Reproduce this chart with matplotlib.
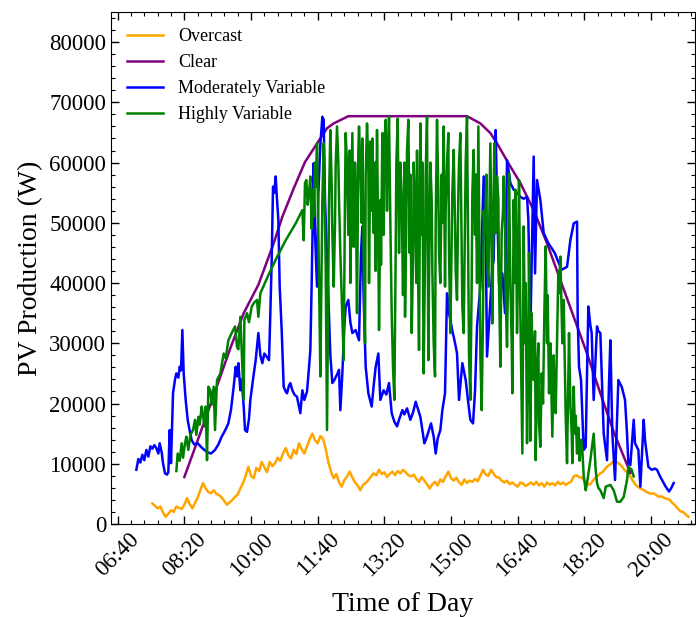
import matplotlib
matplotlib.use("Agg")
import matplotlib.pyplot as plt
from matplotlib.ticker import MultipleLocator, FuncFormatter

# time of day in minutes after midnight, PV production in W
clear = [(500, 7800), (522, 14500), (540, 20100), (569, 29200), (589, 35000),
         (611, 39700), (634, 46600), (647, 51000), (664, 55700), (681, 60100),
         (701, 63500), (714, 65700), (724, 66500), (746, 67700), (924, 67700),
         (944, 66500), (959, 64900), (969, 63200), (986, 59900), (1004, 56600),
         (1024, 52100), (1044, 46600), (1064, 40500), (1084, 34400), (1104, 28300),
         (1124, 21700), (1144, 15300), (1169, 8500)]

overcast_start = 452   # 07:32, sampled every 4 min
overcast_step = 4
overcast = [3400, 3000, 2600, 2900, 1900, 1200, 1700, 2300, 2000, 2900,
            2700, 2500, 3200, 4300, 3300, 2600, 3500, 4400, 5600, 6800,
            5900, 5300, 5100, 5600, 5000, 4800, 4400, 3800, 3200, 3600,
            4000, 4500, 4900, 5900, 6800, 8000, 9500, 8000, 7600, 9300,
            8800, 10300, 9400, 8600, 10300, 9600, 10100, 11000, 10500, 11700,
            12600, 11400, 10900, 12300, 11600, 13400, 12400, 11700, 12900, 14100,
            15000, 13900, 13400, 14600, 14200, 12500, 10300, 8700, 7600, 8300,
            6900, 6200, 7300, 7900, 8700, 7700, 6900, 6400, 5600, 6500,
            6800, 7300, 7900, 8400, 8100, 9000, 8300, 8600, 7800, 8300,
            8700, 8100, 8800, 8400, 9000, 8600, 8100, 7900, 8200, 7500,
            7000, 7800, 7200, 6600, 5900, 6600, 7000, 6400, 7400, 7000,
            7900, 8700, 7600, 7200, 7700, 6900, 6500, 7400, 6800, 7200,
            7000, 7500, 7100, 8000, 9000, 8200, 8000, 9000, 8300, 7800,
            7700, 7200, 6900, 7200, 6600, 6900, 6500, 6200, 6900, 6700,
            6300, 6600, 6900, 6500, 7000, 6400, 6800, 6200, 6900, 6500,
            6800, 6400, 7000, 6600, 6900, 6500, 6800, 7000, 7900, 8100,
            7800, 7700, 7200, 6800, 6500, 7100, 7600, 8000, 8400, 8700,
            9300, 9700, 10000, 10400, 10300, 10000, 9600, 9000, 8600, 8100,
            7300, 6600, 6200, 5900, 5700, 5400, 5200, 5000, 5100, 4800,
            4500, 4600, 4300, 4200, 4000, 3500, 3100, 2600, 2100, 2000,
            1600, 1200]

moderate = [(428, 9000), (431, 10800), (434, 10200), (437, 11500), (440, 10600),
            (443, 12300), (446, 11200), (449, 12900), (452, 12500), (455, 13100),
            (458, 12600), (461, 11700), (463, 13400), (466, 11900), (468, 10100),
            (471, 8400), (474, 8200), (476, 8600), (478, 15600), (480, 10100),
            (483, 21700), (486, 24000), (488, 25000), (491, 24300), (493, 26100),
            (495, 25500), (497, 32200), (499, 25000), (502, 20600), (505, 17300),
            (508, 15500), (511, 13900), (515, 13200), (520, 13400), (525, 12800),
            (530, 12300), (535, 11900), (540, 11700), (546, 12300), (551, 13200),
            (556, 14500), (561, 15500), (566, 16700), (570, 19000), (574, 22800),
            (577, 26100), (579, 24500), (581, 26700), (584, 22200), (586, 24000),
            (589, 19500), (591, 15600), (594, 15300), (597, 17500), (599, 20600),
            (603, 24000), (607, 27200), (611, 31700), (614, 28000), (617, 26700),
            (620, 28300), (624, 27700), (627, 27200), (629, 35000), (631, 43800),
            (633, 56000), (635, 55000), (637, 57700), (639, 53800), (641, 50500),
            (643, 39400), (646, 32200), (649, 22800), (652, 22000), (654, 21700),
            (657, 23000), (659, 23400), (662, 22200), (665, 21500), (669, 21100),
            (672, 19500), (674, 18400), (677, 22200), (680, 20600), (684, 22000),
            (687, 26000), (689, 28900), (691, 40000), (694, 59900), (696, 48300),
            (699, 39400), (701, 54900), (704, 63000), (707, 67600), (709, 67100),
            (711, 53800), (714, 44000), (716, 37200), (719, 28000), (722, 23400),
            (725, 23900), (729, 24800), (732, 25600), (734, 18900), (737, 25000),
            (740, 33000), (742, 36100), (746, 37200), (749, 33500), (752, 31700),
            (757, 32200), (762, 30500), (765, 45000), (767, 49400), (769, 37200),
            (772, 26100), (776, 21700), (781, 19500), (784, 23000), (787, 26100),
            (791, 28300), (794, 20600), (799, 22200), (803, 21500), (807, 23400),
            (811, 18400), (815, 17000), (819, 16200), (822, 17300), (827, 18900),
            (830, 18200), (834, 19200), (839, 17300), (843, 18500), (847, 20300),
            (851, 18900), (854, 17800), (857, 15600), (860, 13400), (863, 14200),
            (867, 15600), (870, 16700), (874, 14500), (877, 11700), (880, 14200),
            (884, 15600), (887, 18900), (891, 21700), (894, 38300), (897, 35000),
            (899, 33900), (902, 32000), (904, 31100), (907, 29500), (909, 28300),
            (912, 20600), (917, 26700), (920, 25000), (922, 23900), (926, 20000),
            (929, 17300), (933, 16700), (936, 22000), (939, 32800), (944, 39400),
            (949, 57700), (952, 48300), (954, 27800), (958, 35000), (962, 42700),
            (964, 43800), (967, 65400), (969, 53800), (972, 40000), (977, 41600),
            (981, 35000), (984, 60400), (989, 56600), (994, 55500), (999, 55000),
            (1004, 54300), (1009, 54000), (1014, 54300), (1016, 50500), (1019, 31700),
            (1021, 43300), (1024, 61000), (1026, 41600), (1029, 57100), (1034, 53800),
            (1039, 48300), (1046, 46600), (1051, 45800), (1056, 44900), (1061, 43500),
            (1066, 42200), (1074, 42700), (1079, 47100), (1084, 49900), (1089, 50200),
            (1090, 34400), (1092, 26100), (1095, 23900), (1099, 12300), (1102, 12800),
            (1104, 25000), (1106, 36100), (1109, 33000), (1111, 31700), (1114, 20600),
            (1119, 32800), (1121, 32000), (1124, 31700), (1127, 21700), (1129, 15000),
            (1134, 10600), (1137, 23400), (1139, 30500), (1142, 15000), (1146, 7300),
            (1151, 23900), (1154, 23200), (1156, 22800), (1161, 20600), (1164, 15000),
            (1166, 10100), (1169, 9800), (1174, 17300), (1176, 13400), (1181, 12300),
            (1184, 6200), (1189, 17300), (1191, 13900), (1196, 9500), (1201, 9000),
            (1206, 9200), (1209, 9000), (1214, 7800), (1219, 6800), (1222, 6200),
            (1227, 5400), (1230, 5900), (1234, 6800)]

highly = [(488, 8800), (490, 11700), (493, 10500), (496, 13400), (498, 11000),
          (501, 13400), (503, 14500), (506, 12300), (509, 14800), (513, 15600),
          (516, 17300), (518, 14800), (521, 17800), (523, 16500), (526, 19500),
          (528, 18000), (530, 16200), (532, 19500), (534, 10600), (536, 22800),
          (539, 22200), (541, 19800), (544, 22800), (546, 15600), (549, 23900),
          (554, 25000), (557, 27000), (559, 28300), (562, 27500), (566, 30500),
          (571, 31700), (576, 32800), (579, 29400), (581, 29000), (584, 34400),
          (587, 26100), (589, 20600), (590, 33900), (594, 35000), (597, 33500),
          (601, 36100), (605, 36800), (609, 37200), (611, 34400), (614, 38300),
          (620, 39800), (626, 41300), (632, 42700), (638, 44100), (645, 45600),
          (652, 47100), (660, 48600), (667, 49900), (672, 51000), (677, 52100),
          (679, 47100), (681, 56600), (683, 57100), (685, 53000), (687, 54900),
          (689, 57700), (691, 49000), (692, 55500), (694, 51000), (696, 60000),
          (697, 56000), (699, 63200), (701, 48300), (703, 33000), (704, 24500),
          (706, 45000), (707, 53800), (709, 63200), (710, 58000), (712, 42700),
          (714, 15600), (716, 40000), (717, 53800), (719, 65400), (721, 56000),
          (722, 48300), (724, 39400), (726, 50000), (727, 59400), (729, 66000),
          (731, 60000), (732, 53800), (734, 45000), (736, 38000), (737, 34400),
          (739, 27200), (741, 55000), (742, 64900), (744, 59400), (746, 48000),
          (748, 62000), (749, 40000), (751, 57000), (752, 64900), (754, 46000),
          (756, 60000), (757, 56600), (759, 35000), (761, 62000), (762, 66000),
          (764, 59400), (766, 50000), (767, 64000), (769, 42700), (771, 30000),
          (772, 58000), (774, 66500), (776, 60000), (777, 40000), (779, 63500),
          (781, 52000), (782, 64000), (784, 48300), (786, 60000), (787, 42000),
          (789, 65400), (791, 45000), (792, 32200), (794, 53800), (795, 43000),
          (797, 64900), (799, 48000), (800, 63000), (802, 67100), (804, 52000),
          (805, 60000), (807, 67600), (809, 50000), (811, 35000), (813, 26000),
          (815, 20600), (817, 45000), (818, 60000), (820, 67300), (822, 45000),
          (824, 60000), (826, 53800), (828, 38000), (830, 60000), (831, 34400),
          (833, 50000), (834, 62000), (836, 67100), (838, 45000), (839, 58000),
          (841, 31700), (843, 44000), (844, 60000), (846, 53200), (848, 40000),
          (849, 62000), (851, 38000), (852, 28900), (854, 66500), (856, 48000),
          (857, 60000), (859, 25000), (861, 45000), (862, 58000), (864, 67600),
          (866, 27200), (867, 40000), (869, 60000), (871, 53800), (872, 42000),
          (874, 30000), (876, 24500), (877, 50000), (879, 67100), (881, 55000),
          (882, 45000), (884, 40000), (886, 58000), (887, 50000), (889, 66000),
          (891, 39400), (892, 52000), (894, 60000), (896, 64900), (897, 45000),
          (899, 31700), (901, 48000), (902, 55000), (904, 62100), (906, 50000),
          (907, 42000), (909, 37200), (911, 55000), (912, 60000), (914, 64900),
          (916, 45000), (917, 36000), (919, 31700), (921, 50000), (922, 60000),
          (924, 67600), (926, 40000), (927, 28000), (929, 20600), (931, 40000),
          (932, 55000), (934, 62100), (936, 48000), (937, 58000), (939, 40000),
          (941, 66000), (943, 40000), (944, 28000), (946, 18900), (948, 35000),
          (949, 52000), (951, 48300), (953, 58000), (954, 45000), (956, 39400),
          (958, 55000), (959, 63200), (961, 45000), (962, 33300), (964, 55000),
          (965, 63200), (967, 48300), (969, 57700), (971, 53800), (972, 40000),
          (974, 26100), (976, 48300), (978, 52000), (979, 57700), (981, 50500),
          (982, 38000), (984, 29400), (986, 45000), (987, 58200), (989, 40000),
          (991, 30000), (992, 21700), (994, 53800), (996, 40000), (997, 55500),
          (999, 31700), (1001, 45000), (1002, 57100), (1004, 35000), (1006, 20000),
          (1007, 11700), (1009, 49400), (1011, 30000), (1012, 40000), (1014, 13400),
          (1016, 30000), (1017, 45000), (1019, 13800), (1021, 35000), (1022, 28000),
          (1024, 23900), (1026, 32000), (1027, 10600), (1029, 25000), (1031, 30000),
          (1032, 16700), (1034, 12800), (1036, 25000), (1038, 20000), (1040, 35000),
          (1042, 46100), (1044, 30000), (1045, 38000), (1047, 21700), (1049, 30000),
          (1050, 25000), (1052, 14500), (1054, 28000), (1055, 22000), (1057, 18400),
          (1059, 30000), (1061, 42000), (1062, 38300), (1064, 44400), (1066, 35000),
          (1067, 30000), (1069, 37200), (1071, 25000), (1072, 18000), (1074, 10100),
          (1076, 25000), (1077, 31700), (1079, 20000), (1081, 15000), (1082, 10100),
          (1084, 22800), (1086, 15000), (1087, 18000), (1089, 11700), (1091, 16000),
          (1093, 10500), (1095, 14000), (1097, 12300), (1099, 8000), (1102, 5600),
          (1104, 6800), (1109, 10600), (1114, 15000), (1117, 9000), (1119, 6800),
          (1121, 6000), (1124, 5600), (1129, 4300), (1132, 6200), (1139, 6500),
          (1144, 5600), (1149, 3700), (1154, 3700), (1159, 4500), (1164, 7300),
          (1166, 9500), (1171, 9000), (1174, 7900)]

labels = ["Overcast", "Clear", "Moderately Variable", "Highly Variable"]
colors = ["orange", "purple", "blue", "green"]

plt.rcParams["font.family"] = ["Liberation Serif", "DejaVu Serif"]

fig, ax = plt.subplots(figsize=(6.96, 6.17), dpi=100)

oc_t = [overcast_start + overcast_step * i for i in range(len(overcast))]
series = [(oc_t, overcast),
          [list(c) for c in zip(*clear)],
          [list(c) for c in zip(*moderate)],
          [list(c) for c in zip(*highly)]]

for (t, v), lab, col in zip(series, labels, colors):
    ax.plot(t, v, color=col, lw=1.8, label=lab)

ax.set_xlim(390, 1266)
ax.set_ylim(0, 85000)
ax.xaxis.set_major_locator(MultipleLocator(100))
ax.xaxis.set_minor_locator(MultipleLocator(20))
ax.yaxis.set_major_locator(MultipleLocator(10000))
ax.yaxis.set_minor_locator(MultipleLocator(2000))
ax.xaxis.set_major_formatter(FuncFormatter(lambda m, p: "%02d:%02d" % (int(m) // 60, int(m) % 60)))
ax.tick_params(which="both", direction="in", top=True, right=True, labelsize=16.5)
ax.tick_params(which="major", length=6, width=1)
ax.tick_params(which="minor", length=3, width=0.8)
plt.setp(ax.get_xticklabels(), rotation=45)

ax.set_xlabel("Time of Day", fontsize=20, labelpad=8)
ax.set_ylabel("PV Production (W)", fontsize=20)
ax.legend(loc="upper left", frameon=False, fontsize=13)

plt.subplots_adjust(left=0.1595, right=0.9986, top=0.9806, bottom=0.1507)
plt.savefig("out.png", dpi=100)
